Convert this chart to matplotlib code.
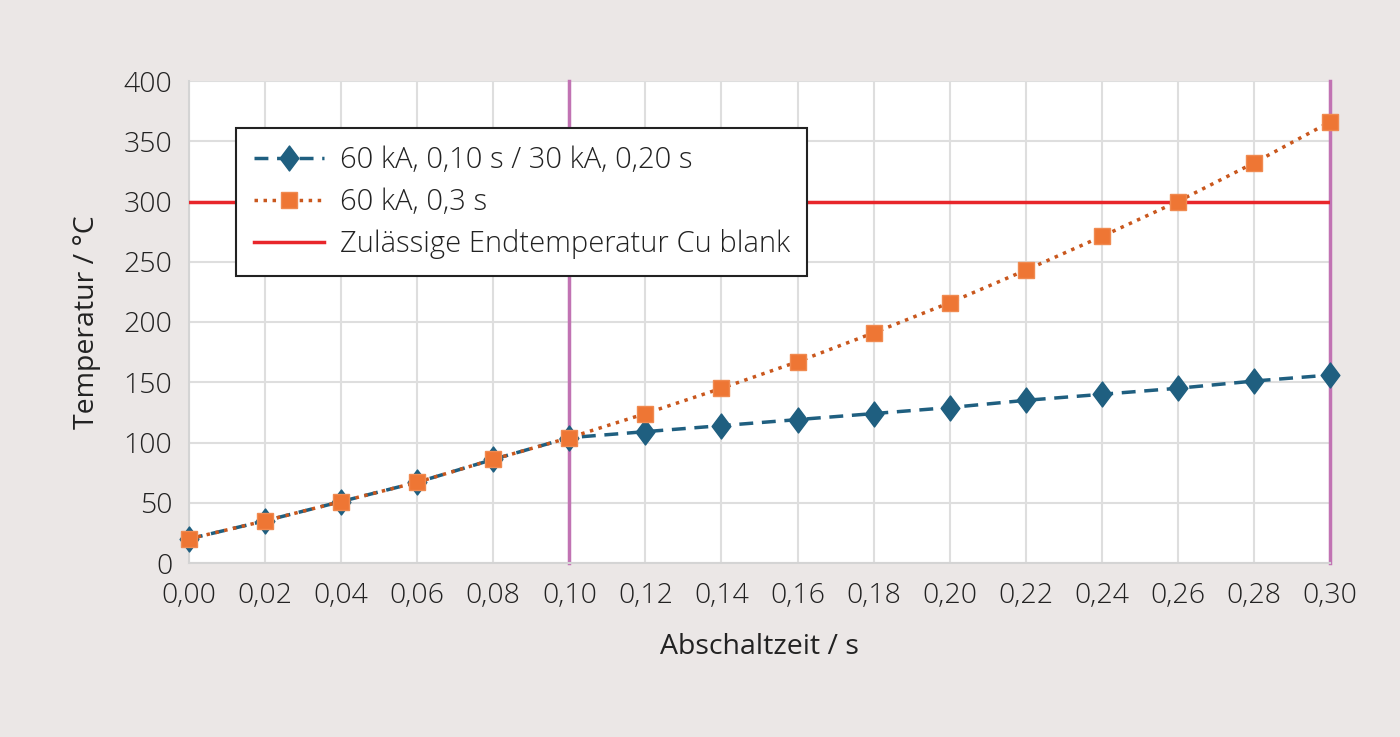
import matplotlib
matplotlib.use("Agg")
import matplotlib.pyplot as plt
from matplotlib.ticker import FixedLocator
from matplotlib.path import Path

plt.rcParams['font.family'] = ['Open Sans', 'DejaVu Sans']
plt.rcParams['font.weight'] = 'light'

t = [0.00, 0.02, 0.04, 0.06, 0.08, 0.10, 0.12, 0.14, 0.16, 0.18, 0.20, 0.22, 0.24, 0.26, 0.28, 0.30]
temp_switch = [20, 35, 51, 67, 86, 104, 109, 114, 119, 124, 129, 135, 140, 145, 151, 156]
temp_const = [20, 35, 51, 67, 86, 104, 124, 145, 167, 191, 216, 243, 271, 300, 332, 366]
limit_temp = 300
vlines_t = [0.10, 0.30]
labels = ["60 kA, 0,10 s / 30 kA, 0,20 s", "60 kA, 0,3 s", "Zulässige Endtemperatur Cu blank"]
xlabel = "Abschaltzeit / s"
ylabel = "Temperatur / °C"
yticks = [0, 50, 100, 150, 200, 250, 300, 350, 400]

FS = 20.5
LFS = 21
txtc = '#222222'
bg = '#ebe7e6'
fig = plt.figure(figsize=(14, 7.37), dpi=100, facecolor=bg)
ax = fig.add_axes([189/1400, 1-563/737, (1330-189)/1400, (563-81)/737])
ax.set_facecolor('white')

ax.set_xlim(0, 0.30)
ax.set_ylim(0, 400)
ax.xaxis.set_major_locator(FixedLocator(t))
ax.set_xticklabels([f"{v:.2f}".replace('.', ',') for v in t])
ax.set_yticks(yticks)
ax.set_yticklabels([str(v) for v in yticks])
ax.grid(True, color='#dedede', linewidth=1.5)
ax.set_axisbelow(True)
for s in ['top', 'right']:
    ax.spines[s].set_visible(False)
for s in ['left', 'bottom']:
    ax.spines[s].set_color('#d4d4d4')
    ax.spines[s].set_linewidth(1.5)
ax.tick_params(length=0, labelsize=FS, colors=txtc)
ax.tick_params(axis='x', pad=14)
ax.tick_params(axis='y', pad=12)

tall_diamond = Path([(0, 1), (0.75, 0), (0, -1), (-0.75, 0), (0, 1)],
                    [Path.MOVETO, Path.LINETO, Path.LINETO, Path.LINETO, Path.CLOSEPOLY])

for v in vlines_t:
    ax.axvline(v, color='#c173b3', linewidth=2.5, zorder=2, clip_on=False)

l3 = ax.axhline(limit_temp, color='#e8262b', linewidth=2.5, zorder=3)
l1, = ax.plot(t, temp_switch, color='#1f5f80', linestyle=(0, (4, 2.5)), linewidth=2.5,
              marker=tall_diamond, markersize=18, markerfacecolor='#1f5f80', markeredgecolor='#1f5f80',
              zorder=4, clip_on=False)
l2, = ax.plot(t, temp_const, color='#c9571d', linestyle=(0, (1, 1.6)), linewidth=2.5,
              marker='s', markersize=12, markerfacecolor='#ee7634', markeredgecolor='#f08a50',
              zorder=5, clip_on=False)

ax.set_xlabel(xlabel, fontsize=FS, color=txtc, labelpad=16)
ax.set_ylabel(ylabel, fontsize=FS, color=txtc, labelpad=16)

leg = ax.legend([l1, l2, l3], labels, loc='upper left', bbox_to_anchor=(0.0412, 0.9025),
                borderaxespad=0, fontsize=LFS, frameon=True, fancybox=False, edgecolor=txtc,
                framealpha=1, borderpad=0.6, handlelength=2.4, handletextpad=0.55,
                labelspacing=0.42)
leg.get_frame().set_linewidth(1.5)
for txt in leg.get_texts():
    txt.set_color(txtc)

fig.savefig('out.png', dpi=100, facecolor=bg)
